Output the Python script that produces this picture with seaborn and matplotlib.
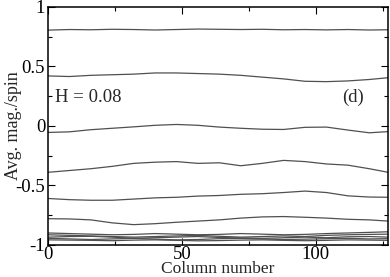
import numpy as np
import pandas as pd
import matplotlib
matplotlib.use("Agg")
import matplotlib.pyplot as plt
import seaborn as sns
from matplotlib.ticker import MultipleLocator

# ── DATA ────────────────────────────────────────────────────
columns = [0, 8, 16, 24, 32, 40, 48, 56, 64, 72, 80, 88, 96, 104, 112, 120, 127]

row_a = [0.805, 0.810, 0.808, 0.812, 0.810, 0.806, 0.810, 0.814, 0.812,
         0.810, 0.812, 0.808, 0.810, 0.807, 0.810, 0.806, 0.808]
row_b = [0.420, 0.415, 0.425, 0.430, 0.435, 0.445, 0.445, 0.440, 0.435,
         0.425, 0.410, 0.395, 0.375, 0.372, 0.378, 0.390, 0.405]
row_c = [-0.055, -0.050, -0.032, -0.020, -0.008, 0.005, 0.012, 0.005, -0.010,
         -0.020, -0.028, -0.030, -0.012, -0.010, -0.035, -0.058, -0.048]
row_d = [-0.390, -0.375, -0.360, -0.340, -0.315, -0.305, -0.300, -0.315, -0.310,
         -0.335, -0.315, -0.290, -0.300, -0.320, -0.330, -0.360, -0.390]
row_e = [-0.610, -0.620, -0.625, -0.625, -0.615, -0.605, -0.600, -0.590, -0.585,
         -0.575, -0.570, -0.560, -0.548, -0.560, -0.588, -0.598, -0.600]
row_f = [-0.780, -0.782, -0.790, -0.815, -0.830, -0.822, -0.810, -0.800, -0.790,
         -0.775, -0.765, -0.762, -0.768, -0.775, -0.785, -0.790, -0.800]
row_g = [-0.900, -0.905, -0.910, -0.915, -0.912, -0.905, -0.910, -0.915, -0.912,
         -0.905, -0.910, -0.915, -0.912, -0.905, -0.900, -0.895, -0.890]
row_h = [-0.915, -0.920, -0.925, -0.930, -0.935, -0.930, -0.925, -0.920, -0.928,
         -0.935, -0.930, -0.925, -0.930, -0.920, -0.915, -0.912, -0.910]
row_i = [-0.935, -0.930, -0.928, -0.935, -0.945, -0.940, -0.935, -0.930, -0.938,
         -0.942, -0.945, -0.940, -0.935, -0.940, -0.932, -0.930, -0.935]
row_j = [-0.945, -0.950, -0.955, -0.950, -0.945, -0.952, -0.958, -0.955, -0.948,
         -0.945, -0.950, -0.955, -0.952, -0.948, -0.945, -0.950, -0.948]
row_k = [-0.958, -0.960, -0.962, -0.965, -0.960, -0.958, -0.962, -0.966, -0.964,
         -0.960, -0.958, -0.962, -0.965, -0.962, -0.958, -0.960, -0.962]

rows = [row_a, row_b, row_c, row_d, row_e, row_f, row_g, row_h, row_i, row_j, row_k]

# ── PLOT ────────────────────────────────────────────────────
sns.set_style("ticks")
plt.rcParams["font.family"] = ["Liberation Serif", "DejaVu Serif"]

fig = plt.figure(figsize=(3.9, 2.77), dpi=100)
ax = fig.add_axes([0.123, 0.116, 0.872, 0.859])

for vals in rows:
    sns.lineplot(x=columns, y=vals, color="#505050", linewidth=0.9, ax=ax)

ax.set_xlim(0, 127)
ax.set_ylim(-1, 1)
ax.xaxis.set_major_locator(MultipleLocator(50))
ax.xaxis.set_minor_locator(MultipleLocator(25))
ax.yaxis.set_major_locator(MultipleLocator(0.5))
ax.yaxis.set_minor_locator(MultipleLocator(0.25))
ax.yaxis.set_major_formatter(plt.FuncFormatter(lambda v, _: f"{v:g}"))
ax.tick_params(which="both", direction="in", top=True, right=True,
               labelsize=13.5, width=0.8, pad=2, colors="black")
ax.tick_params(axis="x", pad=0.5)
ax.tick_params(which="major", length=5)
ax.tick_params(which="minor", length=3)
for s in ax.spines.values():
    s.set_linewidth(1.1)
    s.set_color("black")

ax.set_xlabel("Column number", fontsize=12.5)
ax.xaxis.set_label_coords(0.5, -0.134)
ax.xaxis.label.set_va("bottom")
ax.set_ylabel("Avg. mag./spin", fontsize=13)
ax.yaxis.set_label_coords(-0.1, 0.5)
ax.yaxis.label.set_va("center")
ax.text(2.5, 0.24, "H = 0.08", fontsize=13.5, va="center")
ax.text(110, 0.24, "(d)", fontsize=13.5, va="center")

fig.savefig("out.png", dpi=100)
